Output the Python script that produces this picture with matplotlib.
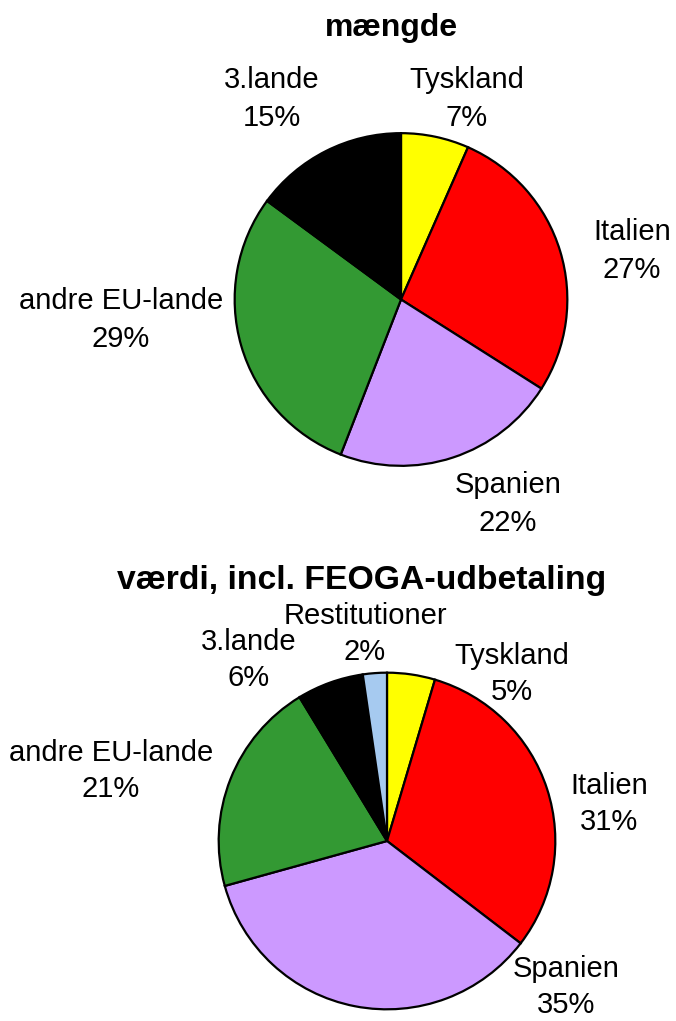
import matplotlib
matplotlib.use("Agg")
import matplotlib.pyplot as plt

plt.rcParams['font.family'] = ['Liberation Sans', 'DejaVu Sans']

W, H = 676, 1021

# Data
top_categories = ["Tyskland", "Italien", "Spanien", "andre EU-lande", "3.lande"]
top_values = [6.6, 27.4, 21.9, 29.2, 14.9]
top_labels = ["7%", "27%", "22%", "29%", "15%"]

bot_categories = ["Tyskland", "Italien", "Spanien", "andre EU-lande", "3.lande", "Restitutioner"]
bot_values = [4.6, 30.8, 35.3, 20.6, 6.4, 2.3]
bot_labels = ["5%", "31%", "35%", "21%", "6%", "2%"]

colors = {"Tyskland": "#FFFF00", "Italien": "#FF0000", "Spanien": "#CC99FF",
          "andre EU-lande": "#339933", "3.lande": "#000000", "Restitutioner": "#A6CAF0"}

fig = plt.figure(figsize=(W / 100, H / 100), dpi=100)
FS = 21


def fx(px):
    return px / W


def fy(py):
    return 1 - py / H


def pie_axes(cx, cy, r):
    return fig.add_axes([fx(cx - r), fy(cy + r), 2 * r / W, 2 * r / H])


def draw(ax, cats, vals):
    ax.pie(vals, colors=[colors[c] for c in cats], startangle=90, counterclock=False,
           wedgeprops=dict(edgecolor="black", linewidth=1.6), radius=1)
    ax.set_xlim(-1.01, 1.01)
    ax.set_ylim(-1.01, 1.01)
    ax.set_aspect("equal")
    ax.axis("off")


ax1 = pie_axes(401, 299.5, 168)
draw(ax1, top_categories, top_values)
ax2 = pie_axes(387, 841, 170)
draw(ax2, bot_categories, bot_values)

fig.text(fx(391), fy(28), "mængde", ha="center", va="center", fontsize=23, fontweight="bold")
fig.text(fx(362), fy(580), "værdi, incl. FEOGA-udbetaling", ha="center", va="center",
         fontsize=24.3, fontweight="bold")

top_pos = [(467, 99), (632, 251), (508, 504), (121, 320), (272, 99)]
bot_pos = [(512, 674), (609, 804), (566, 987), (111, 771), (249, 660), (365, 634)]

for cat, lab, (x, y) in zip(top_categories, top_labels, top_pos):
    fig.text(fx(x), fy(y), f"{cat}\n{lab}", ha="center", va="center", fontsize=FS,
             linespacing=1.45)
for cat, lab, (x, y) in zip(bot_categories, bot_labels, bot_pos):
    fig.text(fx(x), fy(y), f"{cat}\n{lab}", ha="center", va="center", fontsize=FS,
             linespacing=1.38)

fig.savefig("out.png", dpi=100)
